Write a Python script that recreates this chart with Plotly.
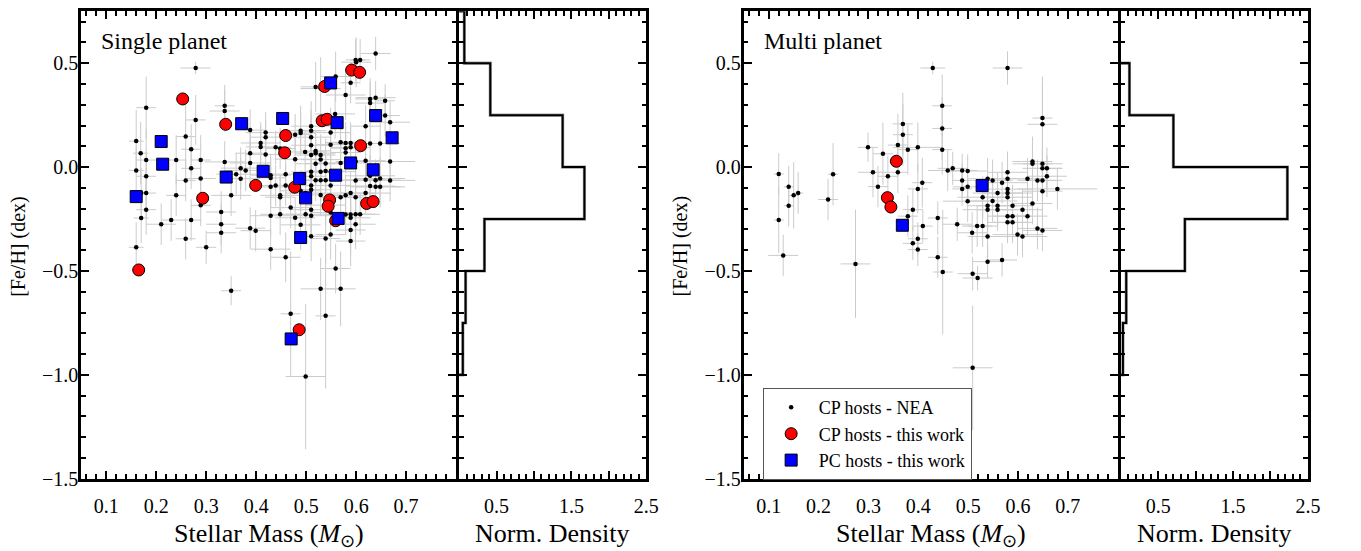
import plotly.graph_objects as go

# ---------------- data: single-planet NEA hosts ----------------
s_mass = [0.279, 0.639, 0.599, 0.608, 0.600, 0.559, 0.589, 0.519, 0.529, 0.579,
          0.628, 0.639, 0.628, 0.658, 0.180, 0.337, 0.337, 0.279, 0.658, 0.668,
          0.558, 0.619, 0.388, 0.419, 0.419, 0.489, 0.489, 0.510, 0.510, 0.510,
          0.478, 0.549, 0.160, 0.259, 0.409, 0.409, 0.439, 0.510, 0.549, 0.569,
          0.579, 0.579, 0.589, 0.589, 0.579, 0.169, 0.270, 0.628, 0.648, 0.668,
          0.180, 0.240, 0.289, 0.337, 0.388, 0.388, 0.419, 0.448, 0.498, 0.519,
          0.519, 0.529, 0.529, 0.510, 0.478, 0.539, 0.569, 0.599, 0.619, 0.519,
          0.160, 0.270, 0.369, 0.379, 0.529, 0.539, 0.549, 0.459, 0.510, 0.510,
          0.429, 0.429, 0.180, 0.360, 0.369, 0.259, 0.289, 0.519, 0.529, 0.539,
          0.599, 0.619, 0.628, 0.639, 0.648, 0.668, 0.459, 0.439, 0.429, 0.549,
          0.510, 0.510, 0.628, 0.639, 0.648, 0.170, 0.180, 0.240, 0.350, 0.448,
          0.448, 0.489, 0.499, 0.529, 0.569, 0.579, 0.589, 0.599, 0.619, 0.180,
          0.289, 0.469, 0.510, 0.539, 0.549, 0.579, 0.589, 0.599, 0.608, 0.170,
          0.210, 0.230, 0.270, 0.330, 0.330, 0.429, 0.448, 0.478, 0.499, 0.510,
          0.589, 0.330, 0.388, 0.399, 0.489, 0.599, 0.510, 0.549, 0.539, 0.589,
          0.589, 0.259, 0.300, 0.160, 0.429, 0.459, 0.559, 0.350, 0.529, 0.569,
          0.469, 0.539, 0.499]
s_feh = [0.477, 0.547, 0.516, 0.516, 0.505, 0.436, 0.406, 0.386, 0.378, 0.347,
         0.328, 0.334, 0.308, 0.319, 0.286, 0.295, 0.270, 0.227, 0.248, 0.216,
         0.256, 0.197, 0.178, 0.166, 0.144, 0.175, 0.164, 0.197, 0.175, 0.144,
         0.156, 0.166, 0.125, 0.147, 0.116, 0.097, 0.095, 0.105, 0.108, 0.119,
         0.116, 0.091, 0.116, 0.095, 0.070, 0.067, 0.086, 0.114, 0.114, 0.027,
         0.034, 0.034, 0.034, 0.025, 0.067, 0.020, 0.061, 0.089, 0.073, 0.078,
         0.067, 0.058, 0.036, 0.058, 0.038, 0.017, 0.020, 0.027, 0.031, 0.016,
         -0.016, -0.006, -0.005, -0.016, -0.023, -0.019, -0.022, -0.034, -0.023, -0.044,
         -0.039, -0.052, -0.044, -0.034, -0.056, -0.064, -0.055, -0.063, -0.063, -0.063,
         -0.064, -0.061, -0.042, -0.063, -0.055, -0.064, -0.088, -0.089, -0.095, -0.088,
         -0.089, -0.109, -0.091, -0.095, -0.095, -0.125, -0.125, -0.136, -0.136, -0.136,
         -0.145, -0.114, -0.125, -0.134, -0.145, -0.136, -0.125, -0.145, -0.125, -0.205,
         -0.184, -0.195, -0.205, -0.183, -0.219, -0.228, -0.228, -0.227, -0.227, -0.245,
         -0.275, -0.255, -0.255, -0.216, -0.275, -0.234, -0.227, -0.244, -0.227, -0.234,
         -0.244, -0.316, -0.294, -0.306, -0.278, -0.275, -0.333, -0.325, -0.344, -0.303,
         -0.356, -0.345, -0.386, -0.386, -0.395, -0.434, -0.488, -0.595, -0.586, -0.586,
         -0.706, -0.716, -1.008]
s_dmass = [0.03, 0.03, 0.02, 0.02, 0.03, 0.03, 0.02, 0.03, 0.04, 0.04,
           0.03, 0.04, 0.03, 0.02, 0.02, 0.02, 0.03, 0.02, 0.03, 0.04,
           0.04, 0.03, 0.03, 0.04, 0.03, 0.04, 0.03, 0.04, 0.03, 0.04,
           0.03, 0.04, 0.015, 0.02, 0.04, 0.03, 0.03, 0.04, 0.03, 0.03,
           0.04, 0.03, 0.03, 0.04, 0.03, 0.015, 0.02, 0.04, 0.04, 0.05,
           0.02, 0.02, 0.02, 0.04, 0.03, 0.04, 0.04, 0.03, 0.04, 0.03,
           0.04, 0.03, 0.04, 0.03, 0.04, 0.04, 0.05, 0.04, 0.04, 0.04,
           0.015, 0.02, 0.04, 0.04, 0.04, 0.04, 0.05, 0.04, 0.04, 0.03,
           0.04, 0.03, 0.02, 0.04, 0.04, 0.02, 0.03, 0.04, 0.04, 0.04,
           0.05, 0.04, 0.05, 0.05, 0.05, 0.05, 0.04, 0.04, 0.04, 0.04,
           0.04, 0.04, 0.05, 0.05, 0.05, 0.015, 0.02, 0.02, 0.04, 0.04,
           0.03, 0.04, 0.04, 0.04, 0.04, 0.04, 0.05, 0.04, 0.05, 0.02,
           0.02, 0.04, 0.04, 0.04, 0.04, 0.04, 0.04, 0.04, 0.04, 0.015,
           0.03, 0.02, 0.02, 0.03, 0.03, 0.04, 0.04, 0.04, 0.04, 0.04,
           0.04, 0.03, 0.03, 0.03, 0.04, 0.04, 0.03, 0.03, 0.03, 0.03,
           0.03, 0.02, 0.02, 0.015, 0.04, 0.03, 0.03, 0.02, 0.04, 0.03,
           0.02, 0.02, 0.04]
s_dfeh = [0.03, 0.08, 0.10, 0.10, 0.12, 0.12, 0.10, 0.12, 0.15, 0.12,
          0.10, 0.08, 0.10, 0.08, 0.15, 0.10, 0.10, 0.12, 0.10, 0.10,
          0.12, 0.10, 0.10, 0.10, 0.08, 0.12, 0.10, 0.12, 0.10, 0.10,
          0.10, 0.12, 0.15, 0.15, 0.10, 0.10, 0.08, 0.10, 0.10, 0.10,
          0.10, 0.10, 0.10, 0.10, 0.10, 0.15, 0.12, 0.10, 0.10, 0.10,
          0.15, 0.12, 0.12, 0.10, 0.10, 0.10, 0.10, 0.10, 0.10, 0.10,
          0.10, 0.10, 0.10, 0.10, 0.10, 0.12, 0.10, 0.10, 0.10, 0.10,
          0.12, 0.10, 0.10, 0.10, 0.10, 0.10, 0.10, 0.10, 0.10, 0.10,
          0.10, 0.10, 0.12, 0.10, 0.10, 0.10, 0.10, 0.10, 0.10, 0.10,
          0.10, 0.10, 0.10, 0.10, 0.10, 0.10, 0.10, 0.10, 0.10, 0.10,
          0.10, 0.10, 0.10, 0.10, 0.10, 0.12, 0.12, 0.10, 0.10, 0.10,
          0.10, 0.10, 0.10, 0.10, 0.10, 0.10, 0.10, 0.10, 0.10, 0.12,
          0.10, 0.10, 0.12, 0.10, 0.12, 0.10, 0.10, 0.10, 0.10, 0.12,
          0.10, 0.10, 0.10, 0.10, 0.10, 0.10, 0.10, 0.10, 0.10, 0.10,
          0.10, 0.10, 0.10, 0.10, 0.12, 0.12, 0.12, 0.12, 0.12, 0.12,
          0.12, 0.10, 0.08, 0.12, 0.10, 0.12, 0.12, 0.07, 0.15, 0.18,
          0.30, 0.35, 0.35]

# this work, single-planet systems
s_cp_mass = [0.253, 0.339, 0.459, 0.457, 0.399, 0.293, 0.477, 0.532, 0.542, 0.537,
             0.591, 0.607, 0.609, 0.621, 0.634, 0.547, 0.544, 0.559, 0.165, 0.486]
s_cp_feh = [0.328, 0.206, 0.152, 0.069, -0.088, -0.150, -0.097, 0.223, 0.230, 0.388,
            0.467, 0.456, 0.103, -0.175, -0.166, -0.158, -0.188, -0.258, -0.495, -0.783]
s_pc_mass = [0.549, 0.639, 0.672, 0.562, 0.453, 0.371, 0.210, 0.213, 0.340, 0.414,
             0.487, 0.499, 0.559, 0.589, 0.634, 0.160, 0.564, 0.489, 0.470]
s_pc_feh = [0.405, 0.248, 0.141, 0.214, 0.234, 0.209, 0.123, 0.014, -0.048, -0.020,
            -0.055, -0.148, -0.039, 0.020, -0.013, -0.142, -0.247, -0.339, -0.827]

# ---------------- data: multi-planet NEA hosts ----------------
m_mass = [0.429, 0.579, 0.448, 0.369, 0.369, 0.448, 0.649, 0.649, 0.299, 0.359,
          0.379, 0.399, 0.448, 0.329, 0.120, 0.229, 0.309, 0.359, 0.339, 0.459,
          0.469, 0.488, 0.499, 0.488, 0.499, 0.488, 0.408, 0.399, 0.319, 0.140,
          0.150, 0.159, 0.140, 0.120, 0.129, 0.219, 0.499, 0.389, 0.379, 0.409,
          0.439, 0.399, 0.389, 0.399, 0.439, 0.449, 0.478, 0.508, 0.518, 0.539,
          0.539, 0.568, 0.509, 0.274, 0.539, 0.549, 0.568, 0.579, 0.579, 0.529,
          0.549, 0.559, 0.579, 0.579, 0.579, 0.589, 0.539, 0.539, 0.559, 0.559,
          0.579, 0.589, 0.579, 0.589, 0.609, 0.619, 0.599, 0.609, 0.629, 0.619,
          0.629, 0.629, 0.639, 0.649, 0.649, 0.658, 0.658, 0.649, 0.649, 0.679,
          0.639, 0.649, 0.529, 0.519, 0.509]
m_feh = [0.477, 0.477, 0.295, 0.208, 0.156, 0.186, 0.236, 0.206, 0.095, 0.106,
         0.084, 0.095, 0.084, 0.064, -0.033, -0.034, -0.025, -0.025, -0.044, -0.016,
         -0.006, -0.016, -0.019, -0.064, -0.095, -0.105, -0.075, -0.105, -0.094, -0.095,
         -0.136, -0.125, -0.186, -0.255, -0.425, -0.156, -0.164, -0.205, -0.236, -0.284,
         -0.245, -0.345, -0.367, -0.397, -0.434, -0.505, -0.275, -0.316, -0.284, -0.334,
         -0.455, -0.447, -0.513, -0.466, -0.056, -0.064, -0.075, -0.025, -0.056, -0.145,
         -0.163, -0.125, -0.106, -0.125, -0.145, -0.186, -0.186, -0.205, -0.186, -0.205,
         -0.236, -0.236, -0.266, -0.266, -0.205, -0.236, -0.325, -0.334, -0.175, -0.056,
         0.027, 0.016, -0.064, 0.016, -0.006, -0.006, -0.044, -0.064, -0.116, -0.105,
         -0.295, -0.305, -0.284, -0.534, -0.966]
m_dmass = [0.025, 0.03, 0.02, 0.02, 0.02, 0.02, 0.02, 0.03, 0.02, 0.02,
           0.02, 0.05, 0.02, 0.02, 0.01, 0.01, 0.03, 0.02, 0.02, 0.04,
           0.03, 0.03, 0.04, 0.02, 0.03, 0.02, 0.02, 0.02, 0.02, 0.01,
           0.01, 0.01, 0.01, 0.01, 0.03, 0.02, 0.05, 0.02, 0.02, 0.02,
           0.02, 0.02, 0.02, 0.02, 0.02, 0.02, 0.03, 0.03, 0.03, 0.04,
           0.03, 0.03, 0.03, 0.03, 0.04, 0.04, 0.05, 0.04, 0.05, 0.05,
           0.05, 0.05, 0.05, 0.05, 0.05, 0.04, 0.04, 0.05, 0.04, 0.04,
           0.04, 0.04, 0.04, 0.04, 0.04, 0.04, 0.05, 0.05, 0.04, 0.04,
           0.04, 0.04, 0.04, 0.04, 0.04, 0.03, 0.04, 0.04, 0.04, 0.08,
           0.04, 0.04, 0.03, 0.03, 0.04]
m_dfeh = [0.03, 0.08, 0.15, 0.15, 0.15, 0.15, 0.20, 0.20, 0.07, 0.15,
          0.12, 0.12, 0.12, 0.15, 0.10, 0.15, 0.12, 0.10, 0.10, 0.10,
          0.08, 0.08, 0.08, 0.08, 0.08, 0.08, 0.12, 0.12, 0.10, 0.10,
          0.16, 0.10, 0.10, 0.16, 0.10, 0.10, 0.10, 0.10, 0.10, 0.08,
          0.08, 0.08, 0.08, 0.08, 0.10, 0.30, 0.08, 0.10, 0.10, 0.10,
          0.08, 0.08, 0.08, 0.26, 0.10, 0.10, 0.10, 0.10, 0.10, 0.10,
          0.10, 0.10, 0.10, 0.10, 0.10, 0.10, 0.10, 0.10, 0.10, 0.10,
          0.10, 0.10, 0.10, 0.10, 0.10, 0.10, 0.10, 0.10, 0.10, 0.10,
          0.12, 0.12, 0.10, 0.12, 0.10, 0.10, 0.10, 0.10, 0.10, 0.10,
          0.10, 0.10, 0.10, 0.06, 0.30]

# this work, multi-planet systems
m_cp_mass = [0.356, 0.338, 0.345]
m_cp_feh = [0.028, -0.147, -0.192]
m_pc_mass = [0.528, 0.368]
m_pc_feh = [-0.089, -0.280]

# histograms (normalised density), bin edges in [Fe/H]
s_hist_edges = [-1.0, -0.75, -0.5, -0.25, 0.0, 0.25, 0.5, 0.75]
s_hist_dens = [0.05, 0.087, 0.339, 1.674, 1.383, 0.417, 0.07]
m_hist_edges = [-1.0, -0.75, -0.5, -0.25, 0.0, 0.25, 0.5]
m_hist_dens = [0.03, 0.074, 0.857, 2.226, 0.704, 0.117]

# tick labels
feh_ticks = [-1.5, -1.0, -0.5, 0.0, 0.5]
feh_text = ["\u22121.5", "\u22121.0", "\u22120.5", "0.0", "0.5"]
mass_ticks = [0.1, 0.2, 0.3, 0.4, 0.5, 0.6, 0.7]
mass_text = ["0.1", "0.2", "0.3", "0.4", "0.5", "0.6", "0.7"]
dens_ticks = [0.0, 0.5, 1.0, 1.5, 2.0, 2.5]
dens_text = ["", "0.5", "", "1.5", "", "2.5"]

# ---------------- figure ----------------
W, H = 1361, 551
FONT = "Liberation Serif, Times New Roman, serif"
GREY = "#cbcbcb"


def px(x):
    return x / W


def py(y):
    return 1 - y / H


def step_path(edges, dens):
    xs, ys = [0.0], [edges[0]]
    for i, d in enumerate(dens):
        xs += [d, d]
        ys += [edges[i], edges[i + 1]]
    xs.append(0.0)
    ys.append(edges[-1])
    return xs, ys


fig = go.Figure()


def add_panel(xs, ys, dx, dy, cpx, cpy, pcx, pcy, edges, dens, xa, ya, hxa, hya):
    fig.add_trace(go.Scatter(
        x=xs, y=ys, mode="markers", xaxis=xa, yaxis=ya, showlegend=False,
        hoverinfo="skip",
        marker=dict(color="black", size=4.5),
        error_x=dict(type="data", array=dx, color=GREY, thickness=1, width=0),
        error_y=dict(type="data", array=dy, color=GREY, thickness=1, width=0)))
    fig.add_trace(go.Scatter(
        x=cpx, y=cpy, mode="markers", xaxis=xa, yaxis=ya, showlegend=False,
        marker=dict(color="#ff0000", size=12, symbol="circle",
                    line=dict(color="black", width=1))))
    fig.add_trace(go.Scatter(
        x=pcx, y=pcy, mode="markers", xaxis=xa, yaxis=ya, showlegend=False,
        marker=dict(color="#0000ff", size=12, symbol="square",
                    line=dict(color="black", width=1))))
    hx, hy = step_path(edges, dens)
    fig.add_trace(go.Scatter(
        x=hx, y=hy, mode="lines", xaxis=hxa, yaxis=hya, showlegend=False,
        line=dict(color="#a0a0a0", width=3.2)))
    fig.add_trace(go.Scatter(
        x=hx, y=hy, mode="lines", xaxis=hxa, yaxis=hya, showlegend=False,
        line=dict(color="black", width=2)))


add_panel(s_mass, s_feh, s_dmass, s_dfeh, s_cp_mass, s_cp_feh, s_pc_mass, s_pc_feh,
          s_hist_edges, s_hist_dens, "x", "y", "x2", "y2")
add_panel(m_mass, m_feh, m_dmass, m_dfeh, m_cp_mass, m_cp_feh, m_pc_mass, m_pc_feh,
          m_hist_edges, m_hist_dens, "x3", "y3", "x4", "y4")

# legend entries
fig.add_trace(go.Scatter(x=[None], y=[None], mode="markers", name="CP hosts - NEA",
                         xaxis="x3", yaxis="y3", marker=dict(color="black", size=4.5)))
fig.add_trace(go.Scatter(x=[None], y=[None], mode="markers", name="CP hosts - this work",
                         xaxis="x3", yaxis="y3",
                         marker=dict(color="#ff0000", size=12, symbol="circle",
                                     line=dict(color="black", width=1))))
fig.add_trace(go.Scatter(x=[None], y=[None], mode="markers", name="PC hosts - this work",
                         xaxis="x3", yaxis="y3",
                         marker=dict(color="#0000ff", size=12, symbol="square",
                                     line=dict(color="black", width=1))))

axis_common = dict(showline=True, linewidth=3, linecolor="black", mirror="allticks",
                   ticks="inside", ticklen=8, tickwidth=2, tickcolor="black",
                   showgrid=False, zeroline=False,
                   tickfont=dict(family=FONT, size=20, color="black"))

# plotly draws axis lines just outside the domain (by half the line width),
# so domains are inset by 1.5 px to centre lines on the wanted pixel columns
ydom = [py(488.5), py(11.5)]
yaxis_sc = dict(axis_common, range=[-1.5, 0.75], domain=ydom, tickvals=feh_ticks,
                ticktext=feh_text, ticklabelstandoff=-4,
                minor=dict(ticks="inside", dtick=0.1, tick0=0, ticklen=4.5, tickwidth=2,
                           tickcolor="black"))
yaxis_h = dict(yaxis_sc, showticklabels=False)
xaxis_sc = dict(axis_common, range=[0.05, 0.8], tickvals=mass_ticks, ticktext=mass_text,
                ticklabelstandoff=7,
                minor=dict(ticks="inside", dtick=0.02, tick0=0, ticklen=4.5, tickwidth=1.5,
                           tickcolor="black"))
xaxis_h = dict(axis_common, range=[0, 2.5], tickvals=dens_ticks, ticktext=dens_text,
               ticklabelstandoff=7,
               minor=dict(ticks="inside", dtick=0.1, tick0=0, ticklen=4.5, tickwidth=1.5,
                          tickcolor="black"))

fig.update_layout(
    width=W, height=H, margin=dict(l=0, r=0, t=0, b=0),
    paper_bgcolor="white", plot_bgcolor="white",
    font=dict(family=FONT, color="black"),
    xaxis=dict(xaxis_sc, domain=[px(82), px(460.5)], anchor="y"),
    yaxis=dict(yaxis_sc, anchor="x"),
    xaxis2=dict(xaxis_h, domain=[px(463.5), px(652.5)], anchor="y2"),
    yaxis2=dict(yaxis_h, anchor="x2"),
    xaxis3=dict(xaxis_sc, domain=[px(751), px(1128.5)], anchor="y3"),
    yaxis3=dict(yaxis_sc, anchor="x3"),
    xaxis4=dict(xaxis_h, domain=[px(1131.5), px(1320.5)], anchor="y4"),
    yaxis4=dict(yaxis_h, anchor="x4"),
    legend=dict(x=px(770), y=py(396), xanchor="left", yanchor="top",
                bgcolor="white", bordercolor="#555555", borderwidth=1,
                font=dict(family=FONT, size=18, color="black"),
                itemsizing="trace", itemwidth=45, tracegroupgap=0),
    showlegend=True,
)

annots = [
    dict(text="Single planet", x=px(100), y=py(42), xanchor="left", yanchor="middle",
         font=dict(size=24)),
    dict(text="Multi planet", x=px(769), y=py(42), xanchor="left", yanchor="middle",
         font=dict(size=24)),
    dict(text="Stellar Mass (<i>M</i><sub>\u2299</sub>)", x=px(271.5), y=py(546),
         xanchor="center", yanchor="middle", font=dict(size=26)),
    dict(text="Stellar Mass (<i>M</i><sub>\u2299</sub>)", x=px(940), y=py(546),
         xanchor="center", yanchor="middle", font=dict(size=26)),
    dict(text="Norm. Density", x=px(558), y=py(544), xanchor="center", yanchor="middle",
         font=dict(size=26)),
    dict(text="Norm. Density", x=px(1226), y=py(544), xanchor="center", yanchor="middle",
         font=dict(size=26)),
    dict(text="[Fe/H] (dex)", x=px(19), y=py(251), xanchor="center", yanchor="middle",
         textangle=-90, font=dict(size=20)),
    dict(text="[Fe/H] (dex)", x=px(688), y=py(251), xanchor="center", yanchor="middle",
         textangle=-90, font=dict(size=20)),
]
for a in annots:
    a.update(xref="paper", yref="paper", showarrow=False)
    a["font"].update(family=FONT, color="black")
fig.update_layout(annotations=annots)

fig.write_html("out.html")
